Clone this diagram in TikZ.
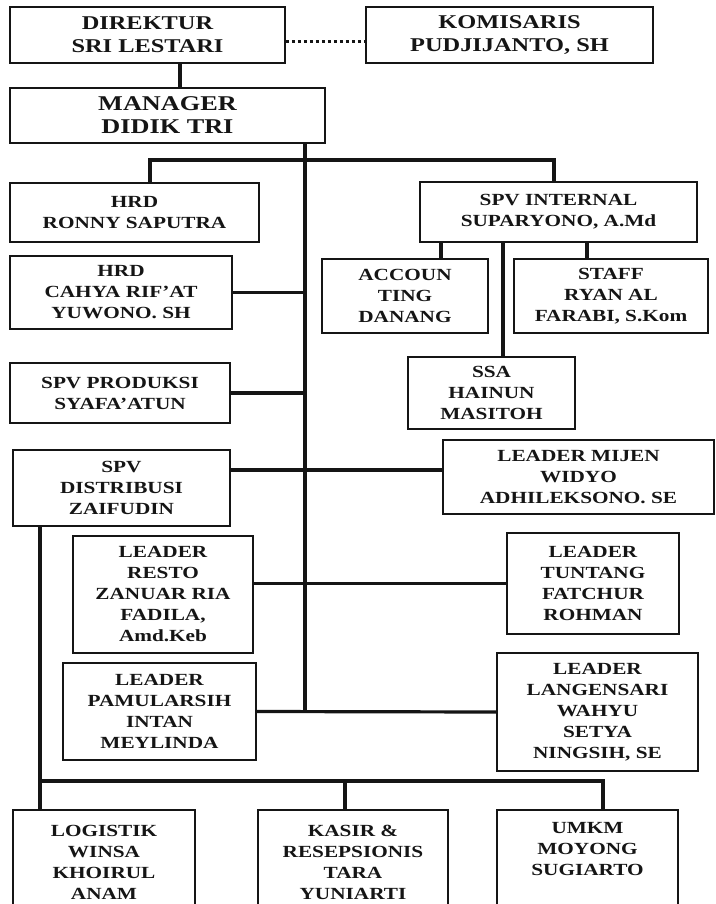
\documentclass[tikz,border=0pt]{standalone}
\usepackage{fontspec}
\setmainfont{Liberation Serif}[FakeStretch=1.25]
\usepackage{tikz}
\usetikzlibrary{calc}
\definecolor{ink}{HTML}{151515}

\begin{document}
\begin{tikzpicture}[x=1pt,y=-1pt,
  box/.style={draw=ink,line width=1.6pt,align=center,inner sep=0pt,text=ink,
    font=\fontsize{17}{21}\selectfont\bfseries},
  bigbox/.style={box,font=\fontsize{19.5}{23}\selectfont\bfseries},
  link/.style={draw=ink,line width=3.2pt},
  dotlink/.style={draw=ink,line width=3pt,dash pattern=on 3pt off 3pt}]
  \useasboundingbox (0,0) rectangle (715,904);
  \fill[white] (0,0) rectangle (715,904);
  \clip (0,0) rectangle (715,904);

  % top level
  \node[bigbox,minimum width=275pt,minimum height=56pt] (dir) at (147.5,35) {DIREKTUR\\SRI LESTARI};
  \node[bigbox,minimum width=287pt,minimum height=56pt] (kom) at (509.5,35) {KOMISARIS\\PUDJIJANTO, SH};
  \node[bigbox,font=\fontsize{21}{23}\selectfont\bfseries,minimum width=315pt,minimum height=55pt] (man) at (167.5,115.5) {MANAGER\\DIDIK TRI};

  % left column
  \node[box,minimum width=249pt,minimum height=59pt] (hrd1) at (134.5,212.5) {HRD\\RONNY SAPUTRA};
  \node[box,minimum width=222pt,minimum height=73pt] (hrd2) at (121,292.5) {HRD\\CAHYA RIF'AT\\YUWONO. SH};
  \node[box,minimum width=220pt,minimum height=60pt] (spvprod) at (120,393) {SPV PRODUKSI\\SYAFA'ATUN};
  \node[box,minimum width=217pt,minimum height=76pt] (spvdist) at (121.5,488) {SPV\\DISTRIBUSI\\ZAIFUDIN};
  \node[box,minimum width=180pt,minimum height=117pt] (resto) at (163,594.5) {LEADER\\RESTO\\ZANUAR RIA\\FADILA,\\Amd.Keb};
  \node[box,minimum width=193pt,minimum height=97pt] (pamul) at (159.5,711.5) {LEADER\\PAMULARSIH\\INTAN\\MEYLINDA};

  % right column
  \node[box,minimum width=277pt,minimum height=60pt] (spvint) at (558.5,212) {SPV INTERNAL\\SUPARYONO, A.Md};
  \node[box,minimum width=166pt,minimum height=74pt] (acc) at (405,296) {ACCOUN\\TING\\DANANG};
  \node[box,minimum width=194pt,minimum height=74pt] (staff) at (611,296) {STAFF\\RYAN AL\\FARABI, S.Kom};
  \node[box,minimum width=167pt,minimum height=72pt] (ssa) at (491.5,393) {SSA\\HAINUN\\MASITOH};
  \node[box,minimum width=271pt,minimum height=74pt] (mijen) at (578.5,477) {LEADER MIJEN\\WIDYO\\ADHILEKSONO. SE};
  \node[box,minimum width=172pt,minimum height=101pt] (tuntang) at (593,583.5) {LEADER\\TUNTANG\\FATCHUR\\ROHMAN};
  \node[box,minimum width=201pt,minimum height=118pt] (lang) at (597.5,712) {LEADER\\LANGENSARI\\WAHYU\\SETYA\\NINGSIH, SE};

  % bottom row
  \node[box,minimum width=182pt,minimum height=105pt] (logis) at (104,862.5) {LOGISTIK\\WINSA\\KHOIRUL\\ANAM};
  \node[box,minimum width=190pt,minimum height=105pt] (kasir) at (353,862.5) {KASIR \&\\RESEPSIONIS\\TARA\\YUNIARTI};
  \node[box,minimum width=181pt,minimum height=105pt] (umkm) at (587.5,862.5) {UMKM\\MOYONG\\SUGIARTO\\\strut};

  % junctions
  \coordinate (ydk) at (0,42);
  \coordinate (xdm) at (180,0);
  \coordinate (spine) at (305,0);
  \coordinate (jl) at (150,160);
  \coordinate (jr) at (554,160);
  \coordinate (xacc) at (441,0);
  \coordinate (xssa) at (503,0);
  \coordinate (xstaff) at (587,0);
  \coordinate (jd) at (305,470);
  \coordinate (jb) at (40,781);
  \coordinate (xkas) at (345,0);
  \coordinate (xumkm) at (603,0);

  \draw[dotlink] (dir.east |- ydk) -- (kom.west |- ydk);
  \draw[link] (dir.south -| xdm) -- (man.north -| xdm);
  \draw[link] (man.south -| spine) -- (pamul.east -| spine);
  \draw[link] (hrd1.north -| jl) -- (jl) -- (jr) -- (spvint.north -| jr);
  \draw[link] (hrd2.east) -- (hrd2.east -| spine);
  \draw[link] (spvprod.east) -- (spvprod.east -| spine);
  \draw[link] (spvint.south -| xacc) -- (acc.north -| xacc);
  \draw[link] (spvint.south -| xssa) -- (ssa.north -| xssa);
  \draw[link] (spvint.south -| xstaff) -- (staff.north -| xstaff);
  \draw[link] (spvdist.east |- jd) -- (mijen.west |- jd);
  \draw[link] (resto.east |- tuntang.west) -- (tuntang.west);
  \draw[link] (pamul.east) -- (lang.west);
  \draw[link] (spvdist.south -| jb) -- (logis.north -| jb);
  \draw[link] (jb) -- (jb -| xumkm) -- (umkm.north -| xumkm);
  \draw[link] (jb -| xkas) -- (kasir.north -| xkas);
\end{tikzpicture}
\end{document}
